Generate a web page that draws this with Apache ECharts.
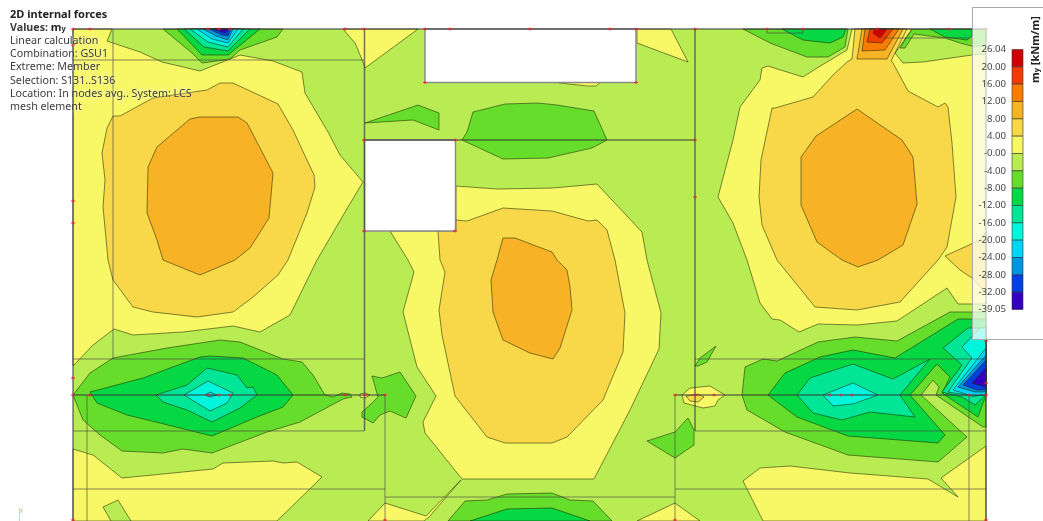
<!DOCTYPE html>
<html><head><meta charset="utf-8">
<style>html,body{margin:0;padding:0;background:#fff}#c{width:1043px;height:521px}</style>
<script src="https://cdn.jsdelivr.net/npm/echarts@6/dist/echarts.min.js"></script>
</head><body><div id="c"></div>
<script>
const legendLabels=['26.04','20.00','16.00','12.00','8.00','4.00','-0.00','-4.00','-8.00','-12.00','-16.00','-20.00','-24.00','-28.00','-32.00','-39.05'];
const legendColors=['#cc0000','#f03c00','#f87c00','#f8b226','#f8d748','#f8f766','#b9ec53','#66dd2b','#05d843','#00e596','#00f5dc','#00d5f7','#0095e0','#0040e0','#3300c0'];
const infoLines=['Linear calculation','Combination: GSU1','Extreme: Member','Selection: S131..S136','Location: In nodes avg.. System: LCS','mesh element'];

const plate=[[73,29],[986,29],[986,521],[73,521]];
const band0to4=[
[[73,29],[112,29],[107,41],[140,52],[162,62],[200,71],[240,55],[273,61],[302,72],[305,93],[328,132],[340,155],[363,182],[348,207],[317,260],[290,315],[260,332],[233,326],[183,332],[133,335],[114,329],[93,345],[73,366]],
[[73,449],[93,455],[122,478],[213,469],[223,463],[273,461],[283,463],[297,462],[322,477],[277,521],[73,521]],
[[343,29],[418,29],[365,68],[363,62],[355,43]],
[[637,29],[671,29],[688,62],[637,43]],
[[555,82],[601,82],[596,86],[587,86],[560,83]],
[[390,231],[456,231],[456,186],[497,189],[553,188],[597,184],[642,232],[647,260],[661,313],[659,349],[630,410],[594,479],[462,479],[425,433],[423,422],[436,396],[417,367],[403,312],[414,272],[408,260]],
[[368,521],[385,503],[426,516],[461,480],[429,517],[424,521]],
[[637,521],[675,503],[700,521]],
[[743,481],[760,468],[790,466],[850,473],[928,479],[958,497],[941,478],[986,446],[986,521],[763,521]],
[[682,395],[690,388],[710,386],[725,395],[718,400],[715,406],[703,408],[684,403]],
[[360,394],[365,393],[370,395],[365,398],[360,397]],
[[760,80],[762,68],[768,66],[803,77],[817,68],[847,50],[852,29],[912,29],[895,53],[903,63],[923,62],[972,55],[986,54],[986,304],[958,304],[947,288],[897,321],[857,325],[818,324],[799,332],[780,320],[772,319],[760,303],[747,260],[733,223],[718,197],[733,140],[740,107]]
];
const bandNeg0to4Patch=[[[103,507],[118,500],[131,521],[111,521]]];
const band4to8=[
[[102,153],[107,128],[113,116],[120,116],[153,98],[207,90],[220,83],[233,83],[278,104],[293,130],[314,175],[315,187],[307,213],[288,260],[278,275],[253,297],[233,312],[197,317],[153,312],[133,307],[113,280],[108,260],[103,207],[105,180]],
[[456,220],[467,221],[503,208],[552,211],[588,221],[597,220],[607,230],[615,260],[625,313],[623,352],[603,400],[567,437],[552,443],[505,443],[487,437],[455,396],[442,335],[439,310],[445,272],[440,260],[438,231],[456,231]],
[[759,197],[761,160],[772,108],[775,108],[813,97],[833,75],[847,62],[852,59],[855,29],[907,29],[891,61],[893,63],[908,91],[938,107],[945,103],[948,107],[952,143],[956,197],[947,247],[938,260],[900,302],[857,310],[815,307],[777,260],[762,225]],
[[945,256],[960,270],[972,278],[985,292],[986,292],[986,232],[980,240]],
[[686,396],[698,394],[704,397],[698,402],[690,401]]
];
const band8to12=[
[[148,167],[157,147],[190,119],[200,117],[238,117],[247,123],[273,173],[269,218],[250,248],[235,260],[200,275],[163,260],[157,240],[147,213]],
[[503,238],[515,238],[552,252],[557,260],[567,270],[570,287],[572,310],[560,348],[553,359],[530,353],[503,340],[493,312],[491,280],[497,260]],
[[857,109],[902,140],[913,157],[917,204],[903,245],[878,260],[858,267],[842,260],[817,242],[801,205],[801,157],[816,136]],
[[857,59],[862,29],[903,29],[887,59]]
];
const band12to16=[[[862,51],[865,29],[899,29],[885,50]]];
const band16to20=[[[867,42],[870,29],[893,29],[882,43]]];
const band20to26=[[[873,33],[875,29],[887,29],[880,38]]];
const bandNeg4to8=[
[[73,395],[90,373],[113,358],[167,348],[220,340],[240,342],[283,359],[302,362],[313,375],[325,395],[333,397],[342,393],[350,394],[352,397],[343,399],[300,422],[267,432],[212,453],[183,449],[163,453],[122,451],[100,435],[83,420]],
[[163,29],[192,53],[202,63],[230,59],[240,50],[277,37],[283,29]],
[[462,140],[467,132],[473,112],[505,104],[538,103],[557,105],[594,111],[607,140],[592,148],[548,158],[503,159]],
[[365,123],[418,105],[439,113],[439,130],[413,120]],
[[448,521],[465,501],[487,500],[507,494],[552,493],[570,500],[593,501],[612,521]],
[[372,376],[382,378],[400,372],[416,396],[406,418],[390,411],[380,415],[373,423],[362,417],[362,412],[372,403],[378,397]],
[[647,441],[675,432],[688,418],[694,430],[694,445],[675,458]],
[[695,366],[700,358],[716,346],[707,362],[698,366]],
[[745,367],[763,359],[777,361],[818,342],[855,337],[897,341],[950,312],[986,312],[986,427],[983,427],[936,395],[939,387],[933,380],[921,395],[967,437],[938,462],[848,455],[785,432],[747,410],[742,395]],
[[900,48],[905,48],[914,34],[945,38],[960,43],[975,47],[986,45],[986,29],[912,29]],
[[743,29],[770,43],[807,57],[828,57],[845,47],[848,29]]
];
const bandNeg8to12=[
[[90,392],[143,378],[200,357],[210,356],[243,358],[277,375],[293,395],[283,407],[257,417],[212,436],[160,423],[127,415],[97,403]],
[[177,29],[202,55],[228,55],[260,29]],
[[470,521],[507,509],[552,508],[590,521]],
[[768,395],[785,373],[820,357],[853,350],[895,358],[958,319],[986,319],[986,395],[978,417],[942,393],[950,377],[937,364],[910,395],[945,435],[938,443],[848,436],[797,417]],
[[930,29],[945,37],[967,40],[972,36],[972,29]],
[[782,29],[803,40],[830,43],[843,37],[846,29]]
];
const bandNeg12to16=[
[[156,395],[187,385],[207,368],[237,375],[247,388],[253,387],[257,395],[240,408],[212,422],[187,410],[163,402]],
[[184,29],[204,47],[228,51],[250,29]],
[[797,395],[810,378],[853,364],[893,379],[930,359],[900,395],[915,417],[870,412],[842,420],[813,413]],
[[943,348],[968,328],[986,328],[986,395],[975,405],[962,397],[942,392],[962,365]]
];
const bandNeg16to20=[
[[184,395],[208,381],[233,393],[227,403],[210,411],[192,400]],
[[190,29],[208,42],[228,47],[243,29]],
[[823,395],[853,383],[878,395],[853,404],[833,406]],
[[962,347],[980,328],[986,328],[986,395],[973,396],[948,392],[972,358]]
];
const bandNeg20to24=[
[[205,395],[210,392],[217,395],[210,397]],
[[197,29],[212,39],[228,43],[238,29]],
[[986,348],[953,390],[972,396],[986,395]]
];
const bandNeg24to28=[[[203,29],[216,36],[228,40],[233,29]],[[986,355],[958,387],[975,392],[986,392]]];
const bandNeg28to32=[[[209,29],[222,35],[228,36],[231,29]],[[986,360],[963,385],[977,390],[986,390]]];
const bandNeg32to39=[[[214,29],[225,33],[229,29]],[[986,368],[972,383],[986,387]]];

const openings=[[[425,29],[636,29],[636,82.5],[425,82.5]],[[364.5,140],[455.5,140],[455.5,231],[364.5,231]]];
const memberLines=[
[[113,29],[113,359]],[[73,60],[364,60]],[[73,359],[364,359]],[[73,431],[364,431]],[[87,395],[87,521]],[[73,489],[385,489]],
[[385,395],[385,521]],[[385,497],[675,497]],[[675,395],[675,521]],[[675,489],[986,489]],[[695,359],[986,359]],[[695,431],[986,431]],
[[969,395],[969,521]],[[767,29],[767,33],[803,33],[803,29]],[[883,38],[970,38]]
];
const edgeLines=[
[[73,29],[986,29]],[[73,29],[73,521]],[[986,29],[986,521]],[[364.5,29],[364.5,431]],[[695,29],[695,431]],[[364.5,140],[695,140]],
[[73,395],[385,395]],[[675,395],[986,395]]
];
const nodes=[[73,29],[90,29],[208,29],[219,29],[230,29],[345,29],[364,29],[425,29],[450,29],[530,29],[610,29],[636,29],[695,29],[767,29],[803,29],[877,29],[949,29],[986,29],
[73,45],[73,201],[73,223],[73,378],[73,395],[73,520],[90,395],[208,395],[219,395],[230,395],[345,395],[365,395],[385,395],[675,395],[695,395],[714,395],[830,395],[841,395],[852,395],[969,395],[986,395],
[986,341],[986,383],[986,520],[364,140],[364,231],[455,140],[455,231],[425,82.5],[636,82.5],[695,140],[695,197],[385,520],[675,520]];

const layers=[[6,[plate],false],[5,band0to4,true],[6,bandNeg0to4Patch,true],[4,band4to8,true],[3,band8to12,true],[2,band12to16,true],[1,band16to20,true],[0,band20to26,true],
[7,bandNeg4to8,true],[8,bandNeg8to12,true],[9,bandNeg12to16,true],[10,bandNeg16to20,true],[11,bandNeg20to24,true],[12,bandNeg24to28,true],[13,bandNeg28to32,true],[14,bandNeg32to39,true]];
const polys=[];
layers.forEach(l=>l[1].forEach(p=>polys.push({pts:p,fill:legendColors[l[0]],stroke:l[2]})));

const chart=echarts.init(document.getElementById('c'),null,{renderer:'canvas'});
const font='"Noto Sans",sans-serif';
const shadow={textShadowColor:'rgba(255,255,255,0.95)',textShadowBlur:5};
const infoY=[41,54,67,80.5,94,107];
const titles=[
 {left:10,top:9,text:'2D internal forces',textStyle:{fontFamily:font,fontSize:11,fontWeight:'bold',color:'#222',...shadow}},
 {left:10,top:22,text:'{a|Values: }{b|m}{c|y}',textStyle:{rich:{a:{fontFamily:font,fontSize:10.7,color:'#3a3a3a',...shadow},b:{fontFamily:font,fontSize:11,fontWeight:'bold',color:'#222',...shadow},c:{fontFamily:font,fontSize:7.5,fontWeight:'bold',color:'#222',padding:[3,0,0,0],...shadow}}}}
].concat(infoLines.map((t,i)=>({left:10,top:infoY[i]-5.4,text:t,textStyle:{fontFamily:font,fontSize:10.7,fontWeight:'normal',color:'#3a3a3a',...shadow}})));
titles.forEach(t=>{t.z=30;t.padding=0;t.itemGap=0;});

function polyline(api,pts,style){
  return {type:'polyline',shape:{points:pts.map(p=>api.coord(p))},style:style,silent:true};
}
chart.setOption({
 animation:false,backgroundColor:'#fff',title:titles,
 grid:[{left:0,top:0,width:1043,height:521,show:false},{left:1012,top:49.5,width:11,height:260,show:false}],
 xAxis:[{gridIndex:0,type:'value',min:0,max:1043,show:false},{gridIndex:1,type:'value',min:0,max:1,show:false}],
 yAxis:[{gridIndex:0,type:'value',min:0,max:521,inverse:true,show:false},
  {gridIndex:1,type:'value',min:0,max:15,interval:1,inverse:true,z:12,axisLine:{show:false},axisTick:{show:false},splitLine:{show:false},
   axisLabel:{show:true,margin:6,fontFamily:font,fontSize:9.6,color:'#444',formatter:v=>legendLabels[v]}}],
 graphic:[
  {type:'rect',z:8,silent:true,shape:{x:972.5,y:7.5,width:80,height:332},style:{fill:'rgba(255,255,255,0.72)',stroke:'#a8a8a8',lineWidth:1}},
  {type:'text',z:12,silent:true,x:1030,y:83,rotation:Math.PI/2,style:{text:'{m|m}{s|y}{u| [kNm/m]}',fill:'#222',rich:{m:{fontFamily:font,fontSize:11,fontWeight:'bold',fill:'#222'},s:{fontFamily:font,fontSize:7.5,fontWeight:'bold',fill:'#222',padding:[3,0,0,0]},u:{fontFamily:font,fontSize:11,fontWeight:'bold',fill:'#222'}}}},
  {type:'line',z:3,silent:true,shape:{x1:19.5,y1:508,x2:19.5,y2:521},style:{stroke:'#9df09d',lineWidth:1}},
  {type:'text',z:3,silent:true,x:20,y:507,style:{text:'y',fontSize:6,fill:'#7fd07f',fontFamily:font}}
 ],
 series:[
  {type:'custom',xAxisIndex:0,yAxisIndex:0,z:2,clip:true,silent:true,data:polys.map((p,i)=>[i,0]),
   renderItem:(ctx,api)=>{const p=polys[api.value(0)];
    return {type:'polygon',shape:{points:p.pts.map(q=>api.coord(q))},style:{fill:p.fill,stroke:p.stroke?'rgba(30,40,0,0.55)':null,lineWidth:1},silent:true};}},
  {type:'custom',xAxisIndex:0,yAxisIndex:0,z:3,silent:true,data:openings.map((p,i)=>[i,0]),
   renderItem:(ctx,api)=>({type:'polygon',shape:{points:openings[api.value(0)].map(q=>api.coord(q))},style:{fill:'#fff',stroke:'#8a8a8a',lineWidth:1.5}})},
  {type:'custom',xAxisIndex:0,yAxisIndex:0,z:4,silent:true,data:memberLines.map((p,i)=>[i,0]),
   renderItem:(ctx,api)=>polyline(api,memberLines[api.value(0)],{fill:null,stroke:'rgba(70,70,70,0.42)',lineWidth:1.5})},
  {type:'custom',xAxisIndex:0,yAxisIndex:0,z:4,silent:true,data:edgeLines.map((p,i)=>[i,0]),
   renderItem:(ctx,api)=>polyline(api,edgeLines[api.value(0)],{fill:null,stroke:'rgba(55,55,55,0.68)',lineWidth:1.5})},
  {type:'scatter',xAxisIndex:0,yAxisIndex:0,z:5,silent:true,symbol:'path://M-1,-3H1V-1H4V1H1V3H-1V1H-4V-1H-1Z',symbolSize:[4,3],itemStyle:{color:'#f02030',opacity:0.9},data:nodes},
  {type:'custom',xAxisIndex:1,yAxisIndex:1,z:11,silent:true,clip:false,data:legendColors.map((c,i)=>[0,i]),
   renderItem:(ctx,api)=>{const i=api.value(1),a=api.coord([0,i]),b=api.coord([1,i+1]);
    return {type:'rect',shape:{x:a[0],y:a[1],width:b[0]-a[0],height:b[1]-a[1]},style:{fill:legendColors[i],stroke:'rgba(50,50,50,0.75)',lineWidth:0.8}};}}
 ]
});
</script></body></html>
